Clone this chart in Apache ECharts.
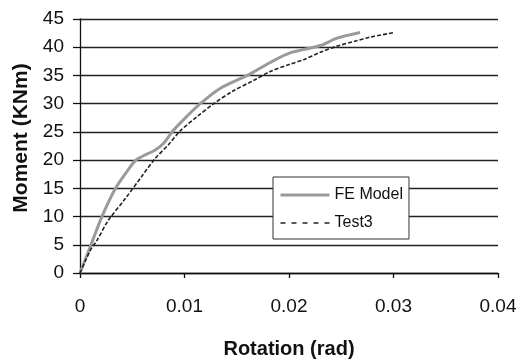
<!DOCTYPE html>
<html><head><meta charset="utf-8">
<script src="https://cdn.jsdelivr.net/npm/echarts@6/dist/echarts.min.js"></script>
<style>html,body{margin:0;padding:0;background:#fff}#c{width:530px;height:364px}</style>
</head><body><div id="c"></div>
<script>
const xTicks = [0, 0.01, 0.02, 0.03, 0.04];
const yTicks = [0, 5, 10, 15, 20, 25, 30, 35, 40, 45];
const feRotation = [0, 0.00105, 0.0021, 0.0034, 0.0045, 0.0053, 0.0059, 0.0072, 0.0080, 0.0089, 0.0102, 0.0115, 0.0134, 0.0160, 0.0182, 0.0201, 0.0230, 0.0246, 0.0268];
const feMoment   = [0, 5, 10, 15, 18, 19.9, 20.6, 21.8, 23, 25.2, 27.7, 30, 32.7, 35, 37.3, 39, 40.3, 41.6, 42.6];
const testRotation = [0, 0.0005, 0.0011, 0.0016, 0.0027, 0.0043, 0.0059, 0.0072, 0.0085, 0.0096, 0.0112, 0.0128, 0.0146, 0.0166, 0.0182, 0.0201, 0.0214, 0.0230, 0.0246, 0.0262, 0.0278, 0.0301];
const testMoment   = [0, 2.1, 4.4, 5.7, 9.3, 13.1, 17.1, 20.3, 22.8, 25.2, 27.7, 30, 32.2, 34.1, 35.7, 37.0, 37.8, 39.1, 40.2, 41.0, 41.8, 42.6];
const seriesNames = ['FE Model', 'Test3'];

const font = 'Liberation Sans, Arial, sans-serif';
const chart = echarts.init(document.getElementById('c'), null, {renderer: 'canvas'});
chart.setOption({
  backgroundColor: '#fff',
  animation: false,
  grid: {left: 80, right: 32, top: 19, bottom: 85, containLabel: false},
  legend: {
    orient: 'vertical', left: 273, top: 177,
    padding: [10, 6, 8, 6], itemGap: 12, itemWidth: 49, itemHeight: 14,
    backgroundColor: '#fff', borderColor: '#333', borderWidth: 1,
    itemStyle: {opacity: 0, borderWidth: 0},
    textStyle: {fontFamily: font, fontSize: 16, color: '#111', lineHeight: 16},
    data: [
      {name: seriesNames[0], lineStyle: {width: 3, color: '#9a9a9a'}},
      {name: seriesNames[1], lineStyle: {width: 1.6, color: '#222', type: [5, 6]}}
    ]
  },
  xAxis: {
    type: 'value', min: xTicks[0], max: xTicks[xTicks.length - 1], interval: xTicks[1] - xTicks[0],
    name: 'Rotation (rad)', nameLocation: 'middle', nameGap: 66,
    nameTextStyle: {fontFamily: font, fontSize: 20, fontWeight: 'bold', color: '#111'},
    axisLine: {show: true, lineStyle: {color: '#111', width: 1.3}},
    axisTick: {show: true, length: 5, lineStyle: {color: '#111', width: 1.3}},
    axisLabel: {margin: 24, fontFamily: font, fontSize: 19, color: '#111',
      formatter: v => String(+v.toFixed(2))},
    splitLine: {show: false}
  },
  yAxis: {
    type: 'value', min: yTicks[0], max: yTicks[yTicks.length - 1], interval: yTicks[1] - yTicks[0],
    name: 'Moment (KNm)', nameLocation: 'middle', nameGap: 47,
    nameTextStyle: {fontFamily: font, fontSize: 21, fontWeight: 'bold', color: '#111', padding: [0, 0, 0, 16]},
    axisLine: {show: true, lineStyle: {color: '#111', width: 1.3}},
    axisTick: {show: true, length: 7, lineStyle: {color: '#111', width: 1.3}},
    axisLabel: {margin: 16, fontFamily: font, fontSize: 19, color: '#111'},
    splitLine: {show: true, lineStyle: {color: '#222', width: 1.3}}
  },
  series: [
    {name: seriesNames[0], type: 'line', smooth: 0.3, symbol: 'none', showSymbol: false,
     data: feRotation.map((r, i) => [r, feMoment[i]]),
     lineStyle: {color: '#9a9a9a', width: 3}, itemStyle: {color: '#9a9a9a'}, z: 3},
    {name: seriesNames[1], type: 'line', smooth: 0.3, symbol: 'none', showSymbol: false,
     data: testRotation.map((r, i) => [r, testMoment[i]]),
     lineStyle: {color: '#222', width: 1.6, type: [4, 2]}, itemStyle: {color: '#222'}, z: 4}
  ]
});
</script></body></html>
